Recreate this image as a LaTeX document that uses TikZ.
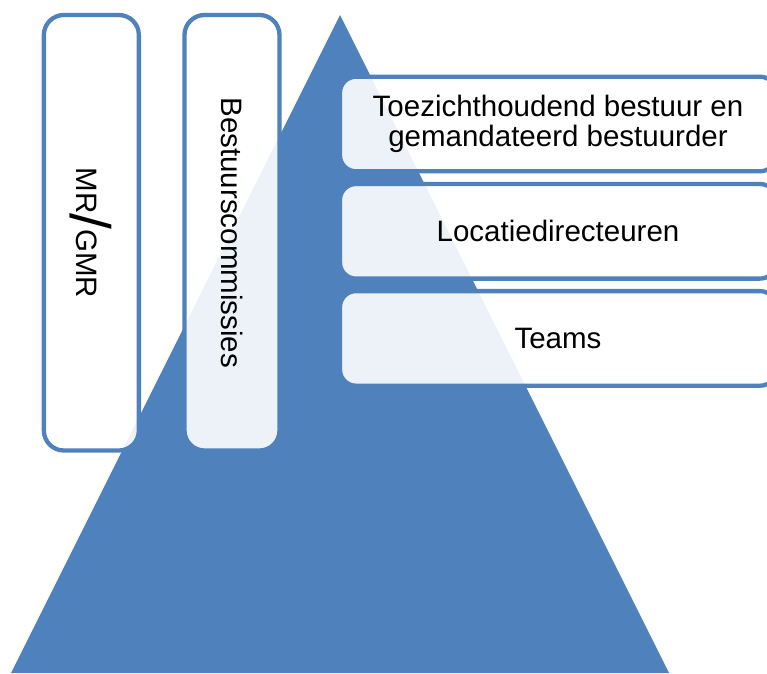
\documentclass[tikz,border=0pt]{standalone}
\usepackage{fontspec}
\setmainfont{Liberation Sans}
\definecolor{pyrblue}{HTML}{4F81BD}
\begin{document}
\begin{tikzpicture}[x=1pt,y=-1pt,
  boxstyle/.style={draw=pyrblue, line width=4.3pt, fill=white, fill opacity=0.9,
    text opacity=1, draw opacity=1, rounded corners=16pt, inner sep=0pt,
    font=\fontsize{29.5}{30}\selectfont, align=center},
  sidebox/.style={boxstyle, rotate=-90, rounded corners=20pt,
    minimum width=435.5pt, minimum height=95pt},
  levelbox/.style={boxstyle, minimum width=436pt, minimum height=94.6pt}]
\useasboundingbox (0,0) rectangle (767,673);
\clip (0,0) rectangle (767,673);
% pyramid
\fill[pyrblue] (340,15) -- (11,673) -- (669,673) -- cycle;
% side boxes
\node[sidebox] (mr) at (91.35,232.75)
  {MR\raisebox{-6pt}{\fontsize{57}{57}\selectfont/}GMR};
\node[sidebox] (bc) at (232,232.75) {Bestuurscommissies};
% level boxes
\node[levelbox] (tz) at (558,124)
  {Toezichthoudend bestuur en\\gemandateerd bestuurder};
\node[levelbox] (ld) at (558,231.3) {Locatiedirecteuren};
\node[levelbox] (tm) at (558,338.4) {Teams};
\end{tikzpicture}
\end{document}
